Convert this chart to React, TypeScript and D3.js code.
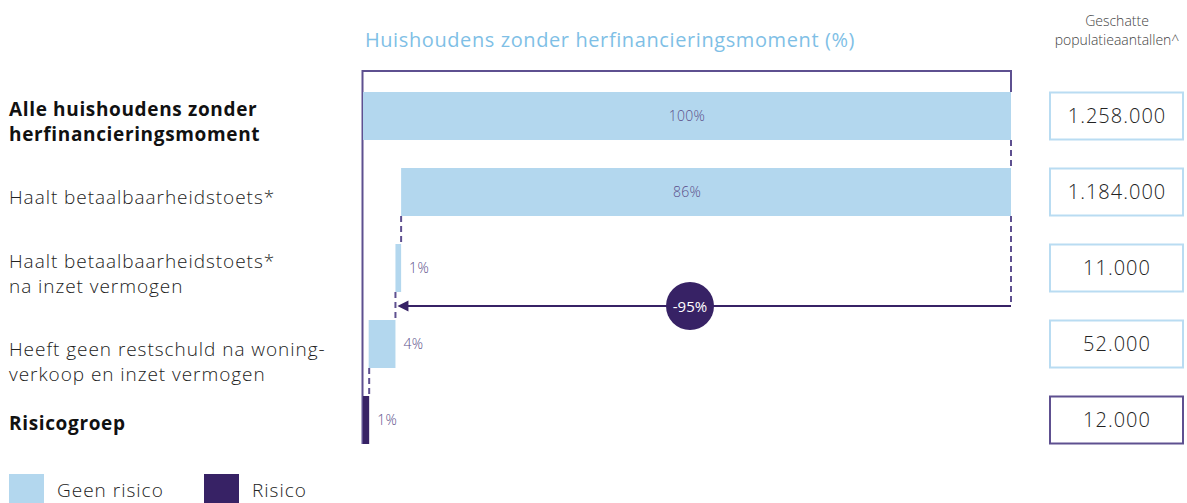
import React from "react";
import * as d3 from "d3";

// chart data
const rowLabels: string[][] = [
  ["Alle huishoudens zonder", "herfinancieringsmoment"],
  ["Haalt betaalbaarheidstoets*"],
  ["Haalt betaalbaarheidstoets*", "na inzet vermogen"],
  ["Heeft geen restschuld na woning-", "verkoop en inzet vermogen"],
  ["Risicogroep"],
];
const boldRows = [true, false, false, false, true];
const populations = [1258000, 1184000, 11000, 52000, 12000];
const percentLabels = ["100%", "86%", "1%", "4%", "1%"];
const isRisk = [false, false, false, false, true];
const populationLabels = ["1.258.000", "1.184.000", "11.000", "52.000", "12.000"];
const changeLabel = "-95%";
const legendItems = ["Geen risico", "Risico"];

const W = 1187;
const H = 503;
const LIGHT = "#b3d7ee";
const DARK = "#372265";
const LINE = "#5e5090";
const FONT = "'Open Sans', Lato, sans-serif";

const App = () => {
  const total = populations[0];
  const x = d3.scaleLinear().domain([0, total]).range([363, 1011]);
  const y = d3
    .scaleBand<number>()
    .domain(populations.map((_, i) => i))
    .range([92, 444])
    .paddingInner(28 / 76)
    .paddingOuter(0);
  const bh = y.bandwidth();

  // waterfall extents: first bar is the total, others step down from the right
  let end = total;
  const bars = populations.map((v, i) => {
    if (i === 0) return [0, total];
    if (isRisk[i]) return [0, v];
    const s = end - v;
    const b = [s, end];
    end = s;
    return b;
  });

  const labelShift = [6, 6, 6.5, 18, 4];
  const arrowY = (y(2)! + bh + y(3)!) / 2;
  const arrowEndX = x(bars[2][0]);
  const mid = x(total / 2) + 3;

  return (
    <svg width={W} height={H} style={{ position: "absolute", left: 0, top: 0 }} fontFamily={FONT}>
      {/* title */}
      <text x={610} y={47} textAnchor="middle" fontSize={20} fontWeight={400} fill="#7fbfe6" letterSpacing={0.6}>
        Huishoudens zonder herfinancieringsmoment (%)
      </text>
      <text x={1117} y={26} textAnchor="middle" fontSize={14} fontWeight={300} fill="#444">
        Geschatte
      </text>
      <text x={1117} y={45} textAnchor="middle" fontSize={14} fontWeight={300} fill="#444">
        populatieaantallen^
      </text>

      {/* bracket */}
      <path
        d={`M${x(0) - 0.5},${y(4)! + bh} V71 H${x(total)} V${y(0)}`}
        fill="none"
        stroke={LINE}
        strokeWidth={2}
      />

      {/* bars */}
      {bars.map((b, i) => (
        <rect
          key={i}
          x={x(b[0])}
          y={y(i)}
          width={x(b[1]) - x(b[0])}
          height={bh}
          fill={isRisk[i] ? DARK : LIGHT}
        />
      ))}

      {/* dashed connectors */}
      {bars.slice(1).map((b, i) => (
        <line
          key={i}
          x1={x(b[1])}
          x2={x(b[1])}
          y1={y(i)! + bh}
          y2={y(i + 1)}
          stroke={LINE}
          strokeWidth={2}
          strokeDasharray="6 4"
        />
      ))}
      <line
        x1={x(total)}
        x2={x(total)}
        y1={y(1)! + bh}
        y2={arrowY}
        stroke={LINE}
        strokeWidth={2}
        strokeDasharray="6 4"
      />

      {/* arrow */}
      <line x1={x(total)} x2={arrowEndX + 12} y1={arrowY} y2={arrowY} stroke={DARK} strokeWidth={2} />
      <path
        d={`M${arrowEndX + 2},${arrowY} L${arrowEndX + 13},${arrowY - 5.5} L${arrowEndX + 13},${arrowY + 5.5} Z`}
        fill={DARK}
      />
      <circle cx={mid} cy={arrowY} r={24} fill={DARK} />
      <text x={mid} y={arrowY + 5.5} textAnchor="middle" fontSize={15} fill="#fff">
        {changeLabel}
      </text>

      {/* percent labels */}
      {bars.map((b, i) => {
        const wide = x(b[1]) - x(b[0]) > 60;
        return (
          <text
            key={i}
            x={wide ? x(total / 2) : x(b[1]) + 8}
            y={y(i)! + bh / 2 + 5}
            textAnchor={wide ? "middle" : "start"}
            fontSize={14}
            fontWeight={300}
            fill="#5b4f8a"
            letterSpacing={0.3}
          >
            {percentLabels[i]}
          </text>
        );
      })}

      {/* row labels */}
      {rowLabels.map((lines, i) => {
        const cy = y(i)! + bh / 2 + labelShift[i];
        return lines.map((t, j) => (
          <text
            key={`${i}-${j}`}
            x={9}
            y={cy + (j - (lines.length - 1) / 2) * 25 + 6}
            fontSize={19}
            fontWeight={boldRows[i] ? 700 : 300}
            fill={boldRows[i] ? "#111" : "#222"}
            letterSpacing={boldRows[i] ? 0.65 : 0.95}
          >
            {t}
          </text>
        ));
      })}

      {/* population boxes */}
      {populationLabels.map((t, i) => (
        <g key={i}>
          <rect
            x={1050}
            y={y(i)! + 0.5}
            width={133}
            height={bh - 1}
            fill="#fff"
            stroke={isRisk[i] ? LINE : "#b9dcf2"}
            strokeWidth={2}
          />
          <text
            x={1117}
            y={y(i)! + bh / 2 + 7}
            textAnchor="middle"
            fontSize={20}
            fontWeight={300}
            fill="#222"
            letterSpacing={1}
          >
            {t}
          </text>
        </g>
      ))}

      {/* legend */}
      {legendItems.map((t, i) => (
        <g key={t} transform={`translate(${9 + i * 195},474)`}>
          <rect width={35} height={29} fill={i === 0 ? LIGHT : DARK} />
          <text x={48} y={23} fontSize={19} fontWeight={300} fill="#222" letterSpacing={1}>
            {t}
          </text>
        </g>
      ))}
    </svg>
  );
};

export default App;
